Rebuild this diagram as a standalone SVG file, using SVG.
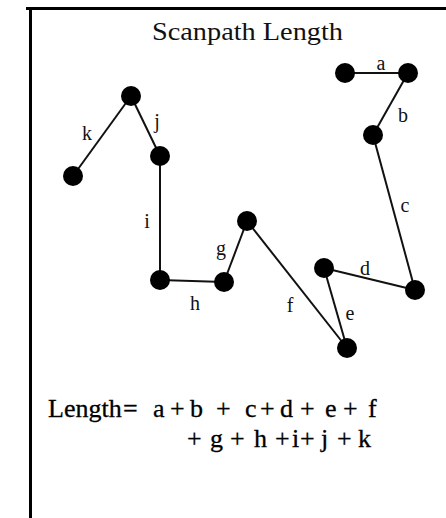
<svg xmlns="http://www.w3.org/2000/svg" width="446" height="518" viewBox="0 0 446 518">
<style>
.frame{stroke:#000;stroke-width:3;fill:none}
.edge{stroke:#111;stroke-width:2;fill:none}
.node{fill:#000}
.lbl{font-family:"Liberation Serif","Times New Roman",serif;font-size:20px;fill:#111;text-anchor:middle}
.title{font-family:"Liberation Serif","Times New Roman",serif;font-size:25px;fill:#111}
.eq{font-family:"Liberation Serif","Times New Roman",serif;font-size:26px;fill:#000;stroke:#000;stroke-width:0.3}
</style>
<rect width="446" height="518" fill="#fff"/>
<path class="frame" d="M26 8.5 H446 M30.5 7 V518"/>
<text class="title" x="152" y="40" textLength="191" lengthAdjust="spacingAndGlyphs">Scanpath Length</text>
<g id="connectors">
<line id="a" class="edge" x1="345" y1="73" x2="408" y2="73"/>
<line id="b" class="edge" x1="408" y1="73" x2="373" y2="135"/>
<line id="c" class="edge" x1="373" y1="135" x2="415" y2="290"/>
<line id="d" class="edge" x1="415" y1="290" x2="324" y2="268"/>
<line id="e" class="edge" x1="324" y1="268" x2="347" y2="348"/>
<line id="f" class="edge" x1="347" y1="348" x2="247" y2="221"/>
<line id="g" class="edge" x1="247" y1="221" x2="224" y2="282"/>
<line id="h" class="edge" x1="224" y1="282" x2="160" y2="280"/>
<line id="i" class="edge" x1="160" y1="280" x2="160" y2="156"/>
<line id="j" class="edge" x1="160" y1="156" x2="131" y2="96"/>
<line id="k" class="edge" x1="131" y1="96" x2="73" y2="176"/>
</g>
<g id="labels">
<text class="lbl" x="381" y="70">a</text>
<text class="lbl" x="403" y="122">b</text>
<text class="lbl" x="405" y="212">c</text>
<text class="lbl" x="365" y="275">d</text>
<text class="lbl" x="350" y="320">e</text>
<text class="lbl" x="290" y="312">f</text>
<text class="lbl" x="221" y="255">g</text>
<text class="lbl" x="195" y="310">h</text>
<text class="lbl" x="147" y="228">i</text>
<text class="lbl" x="157" y="128">j</text>
<text class="lbl" x="87" y="140">k</text>
</g>
<g id="n1"><circle class="node" cx="345" cy="73" r="10"/></g>
<g id="n2"><circle class="node" cx="408" cy="73" r="10"/></g>
<g id="n3"><circle class="node" cx="373" cy="135" r="10"/></g>
<g id="n4"><circle class="node" cx="415" cy="290" r="10"/></g>
<g id="n5"><circle class="node" cx="324" cy="268" r="10"/></g>
<g id="n6"><circle class="node" cx="347" cy="348" r="10"/></g>
<g id="n7"><circle class="node" cx="247" cy="221" r="10"/></g>
<g id="n8"><circle class="node" cx="224" cy="282" r="10"/></g>
<g id="n9"><circle class="node" cx="160" cy="280" r="10"/></g>
<g id="n10"><circle class="node" cx="160" cy="156" r="10"/></g>
<g id="n11"><circle class="node" cx="131" cy="96" r="10"/></g>
<g id="n12"><circle class="node" cx="73" cy="176" r="10"/></g>
<text class="eq" y="417"><tspan x="48">Length</tspan><tspan x="123">=</tspan><tspan x="153">a</tspan><tspan x="170">+</tspan><tspan x="190">b</tspan><tspan x="216">+</tspan><tspan x="245">c</tspan><tspan x="260">+</tspan><tspan x="280">d</tspan><tspan x="300">+</tspan><tspan x="325">e</tspan><tspan x="343">+</tspan><tspan x="368">f</tspan></text>
<text class="eq" y="447"><tspan x="187">+</tspan><tspan x="210">g</tspan><tspan x="230">+</tspan><tspan x="254">h</tspan><tspan x="275">+</tspan><tspan x="292">i</tspan><tspan x="300">+</tspan><tspan x="321">j</tspan><tspan x="337">+</tspan><tspan x="358">k</tspan></text>
</svg>
